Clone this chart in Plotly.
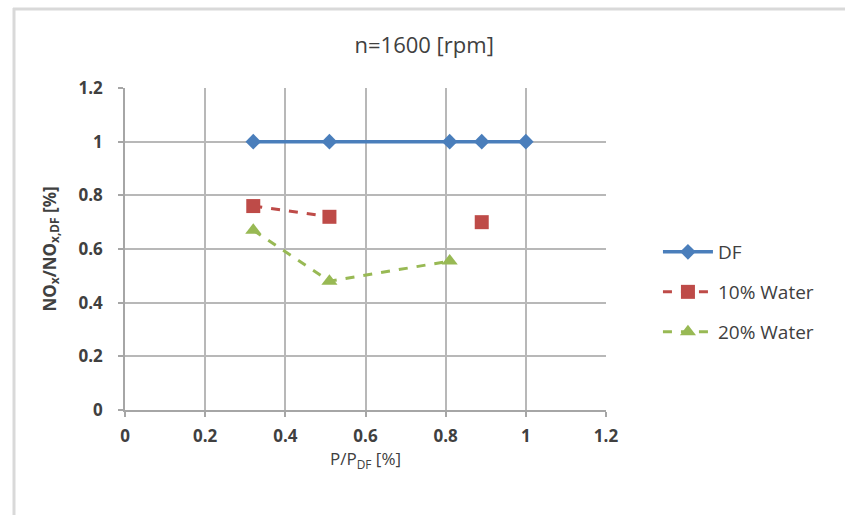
import plotly.graph_objects as go

x_df = [0.32, 0.51, 0.81, 0.89, 1.0]
y_df = [1.0, 1.0, 1.0, 1.0, 1.0]
x_w10 = [0.32, 0.51, 0.81, 0.89]
y_w10 = [0.76, 0.72, None, 0.70]
x_w20 = [0.32, 0.51, 0.81]
y_w20 = [0.67, 0.48, 0.555]

x_ticks = [0, 0.2, 0.4, 0.6, 0.8, 1, 1.2]
y_ticks = [0, 0.2, 0.4, 0.6, 0.8, 1, 1.2]

font_family = "Open Sans, Liberation Sans, Arial, sans-serif"
txt = "#404040"

fig = go.Figure()
fig.add_trace(go.Scatter(x=x_df, y=y_df, name="DF", mode="lines+markers",
                         line=dict(color="#4a7ebb", width=3.5),
                         marker=dict(symbol="diamond", size=12, color="#4a7ebb"),
                         legend="legend"))
fig.add_trace(go.Scatter(x=x_w10, y=y_w10, name="10% Water", mode="lines+markers",
                         line=dict(color="#be4b48", width=3, dash="dash"),
                         marker=dict(symbol="square", size=14, color="#be4b48"),
                         connectgaps=False, legend="legend2"))
fig.add_trace(go.Scatter(x=x_w20, y=y_w20, name="20% Water", mode="lines+markers",
                         line=dict(color="#98b954", width=3, dash="dash"),
                         marker=dict(symbol="triangle-up", size=14, color="#98b954"),
                         legend="legend3"))

axis_common = dict(
    showgrid=True, gridcolor="#b8b8b8", gridwidth=1.5,
    showline=True, linecolor="#a6a6a6", linewidth=1.5,
    ticks="outside", ticklen=5, tickcolor="#a6a6a6", tickwidth=1.5,
    zeroline=False, range=[0, 1.2],
    tickfont=dict(family=font_family, size=17, color=txt, weight="bold"),
)

fig.update_xaxes(tickvals=x_ticks, ticktext=[f"{v:g}" for v in x_ticks], ticklabelstandoff=5,
                 title=dict(text="P/P<sub>DF</sub> [%]", font=dict(family=font_family, size=17, color=txt), standoff=4),
                 **axis_common)
fig.update_yaxes(tickvals=y_ticks, ticktext=[f"{v:g}" for v in y_ticks], ticklabelstandoff=12,
                 title=dict(text="<b>NO<sub>x</sub>/NO<sub>x,DF</sub> [%]</b>", font=dict(family=font_family, size=17, color=txt), standoff=18),
                 **axis_common)

leg = dict(font=dict(family=font_family, size=19, color=txt), bgcolor="rgba(0,0,0,0)",
           xanchor="left", yanchor="middle", itemwidth=50)
fig.update_layout(
    width=845, height=515,
    margin=dict(l=125, r=239, t=88, b=105),
    paper_bgcolor="white", plot_bgcolor="white",
    title=dict(text="n=1600 [rpm]", x=0.502, xanchor="center", y=1 - 45 / 515, yanchor="middle",
               font=dict(family=font_family, size=22, color=txt)),
    showlegend=True,
    legend=dict(x=1.108, y=(410 - 252) / 322, **leg),
    legend2=dict(x=1.108, y=(410 - 292) / 322, **leg),
    legend3=dict(x=1.108, y=(410 - 332) / 322, **leg),
    shapes=[
        dict(type="line", xref="paper", yref="paper",
             x0=-112 / 481, x1=(845 - 125) / 481, y0=1 + 79 / 322, y1=1 + 79 / 322,
             line=dict(color="#d9d9d9", width=3)),
        dict(type="line", xref="paper", yref="paper",
             x0=-111 / 481, x1=-111 / 481, y0=-105 / 322, y1=1 + 80 / 322,
             line=dict(color="#d9d9d9", width=3)),
    ],
)

fig.write_html("out.html")
